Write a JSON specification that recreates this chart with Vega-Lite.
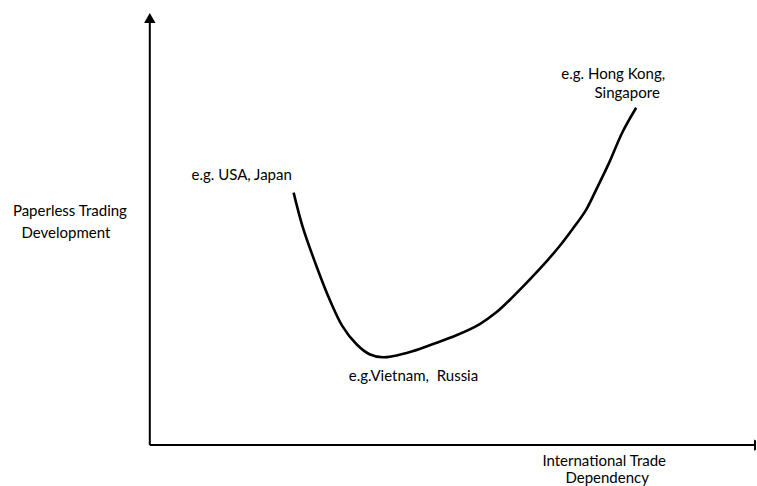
{
  "$schema": "https://vega.github.io/schema/vega-lite/v6.json",
  "width": 757,
  "height": 486,
  "autosize": {"type": "fit", "contains": "padding"},
  "padding": 0,
  "background": "white",
  "config": {"view": {"stroke": null}, "font": "Lato"},
  "datasets": {
    "curve": [
      {"dependency": 144, "development": 253},
      {"dependency": 153, "development": 219},
      {"dependency": 167, "development": 179},
      {"dependency": 180, "development": 146},
      {"dependency": 193, "development": 119},
      {"dependency": 207, "development": 101},
      {"dependency": 220, "development": 91},
      {"dependency": 233, "development": 88},
      {"dependency": 243, "development": 89},
      {"dependency": 263, "development": 94},
      {"dependency": 283, "development": 101},
      {"dependency": 307, "development": 110},
      {"dependency": 330, "development": 121},
      {"dependency": 347, "development": 133},
      {"dependency": 363, "development": 148},
      {"dependency": 390, "development": 176},
      {"dependency": 410, "development": 199},
      {"dependency": 423, "development": 216},
      {"dependency": 437, "development": 236},
      {"dependency": 447, "development": 256},
      {"dependency": 460, "development": 283},
      {"dependency": 473, "development": 313},
      {"dependency": 487, "development": 338}
    ],
    "labels": [
      {"label": "e.g. USA, Japan", "dependency": 92, "development": 271},
      {"label": "e.g. Hong Kong,", "dependency": 464, "development": 372},
      {"label": "Singapore", "dependency": 478, "development": 353},
      {"label": "e.g.Vietnam, \u00a0Russia", "dependency": 264, "development": 69},
      {"label": "Paperless Trading", "dependency": -80, "development": 235},
      {"label": "Development", "dependency": -84, "development": 213},
      {"label": "International Trade", "dependency": 455, "development": -16},
      {"label": "Dependency", "dependency": 458, "development": -33}
    ],
    "axes": [
      {"x1": 0, "y1": 0, "x2": 0, "y2": 428},
      {"x1": 0, "y1": 0, "x2": 607, "y2": 0}
    ],
    "arrows": [
      {"dependency": 0, "development": 428, "dir": "up"},
      {"dependency": 610, "development": 0, "dir": "right"}
    ]
  },
  "layer": [
    {
      "data": {"name": "axes"},
      "mark": {"type": "rule", "color": "black", "strokeWidth": 2},
      "encoding": {
        "x": {"field": "x1", "type": "quantitative", "scale": {"domain": [-150, 607], "nice": false, "zero": false}, "axis": null},
        "y": {"field": "y1", "type": "quantitative", "scale": {"domain": [-40, 446], "nice": false, "zero": false}, "axis": null},
        "x2": {"field": "x2"},
        "y2": {"field": "y2"}
      }
    },
    {
      "data": {"name": "arrows"},
      "mark": {"type": "point", "filled": true, "color": "black", "size": 130, "opacity": 1, "clip": true},
      "encoding": {
        "x": {"field": "dependency", "type": "quantitative"},
        "y": {"field": "development", "type": "quantitative"},
        "shape": {"field": "dir", "type": "nominal", "scale": {"domain": ["up", "right"], "range": ["triangle-up", "triangle-right"]}, "legend": null}
      }
    },
    {
      "data": {"name": "curve"},
      "mark": {"type": "line", "color": "black", "strokeWidth": 2.6, "interpolate": "catmull-rom"},
      "encoding": {
        "x": {"field": "dependency", "type": "quantitative"},
        "y": {"field": "development", "type": "quantitative"}
      }
    },
    {
      "data": {"name": "labels"},
      "mark": {"type": "text", "font": "Lato", "fontSize": 15, "color": "black", "align": "center", "baseline": "middle"},
      "encoding": {
        "x": {"field": "dependency", "type": "quantitative"},
        "y": {"field": "development", "type": "quantitative"},
        "text": {"field": "label", "type": "nominal"}
      }
    }
  ]
}
